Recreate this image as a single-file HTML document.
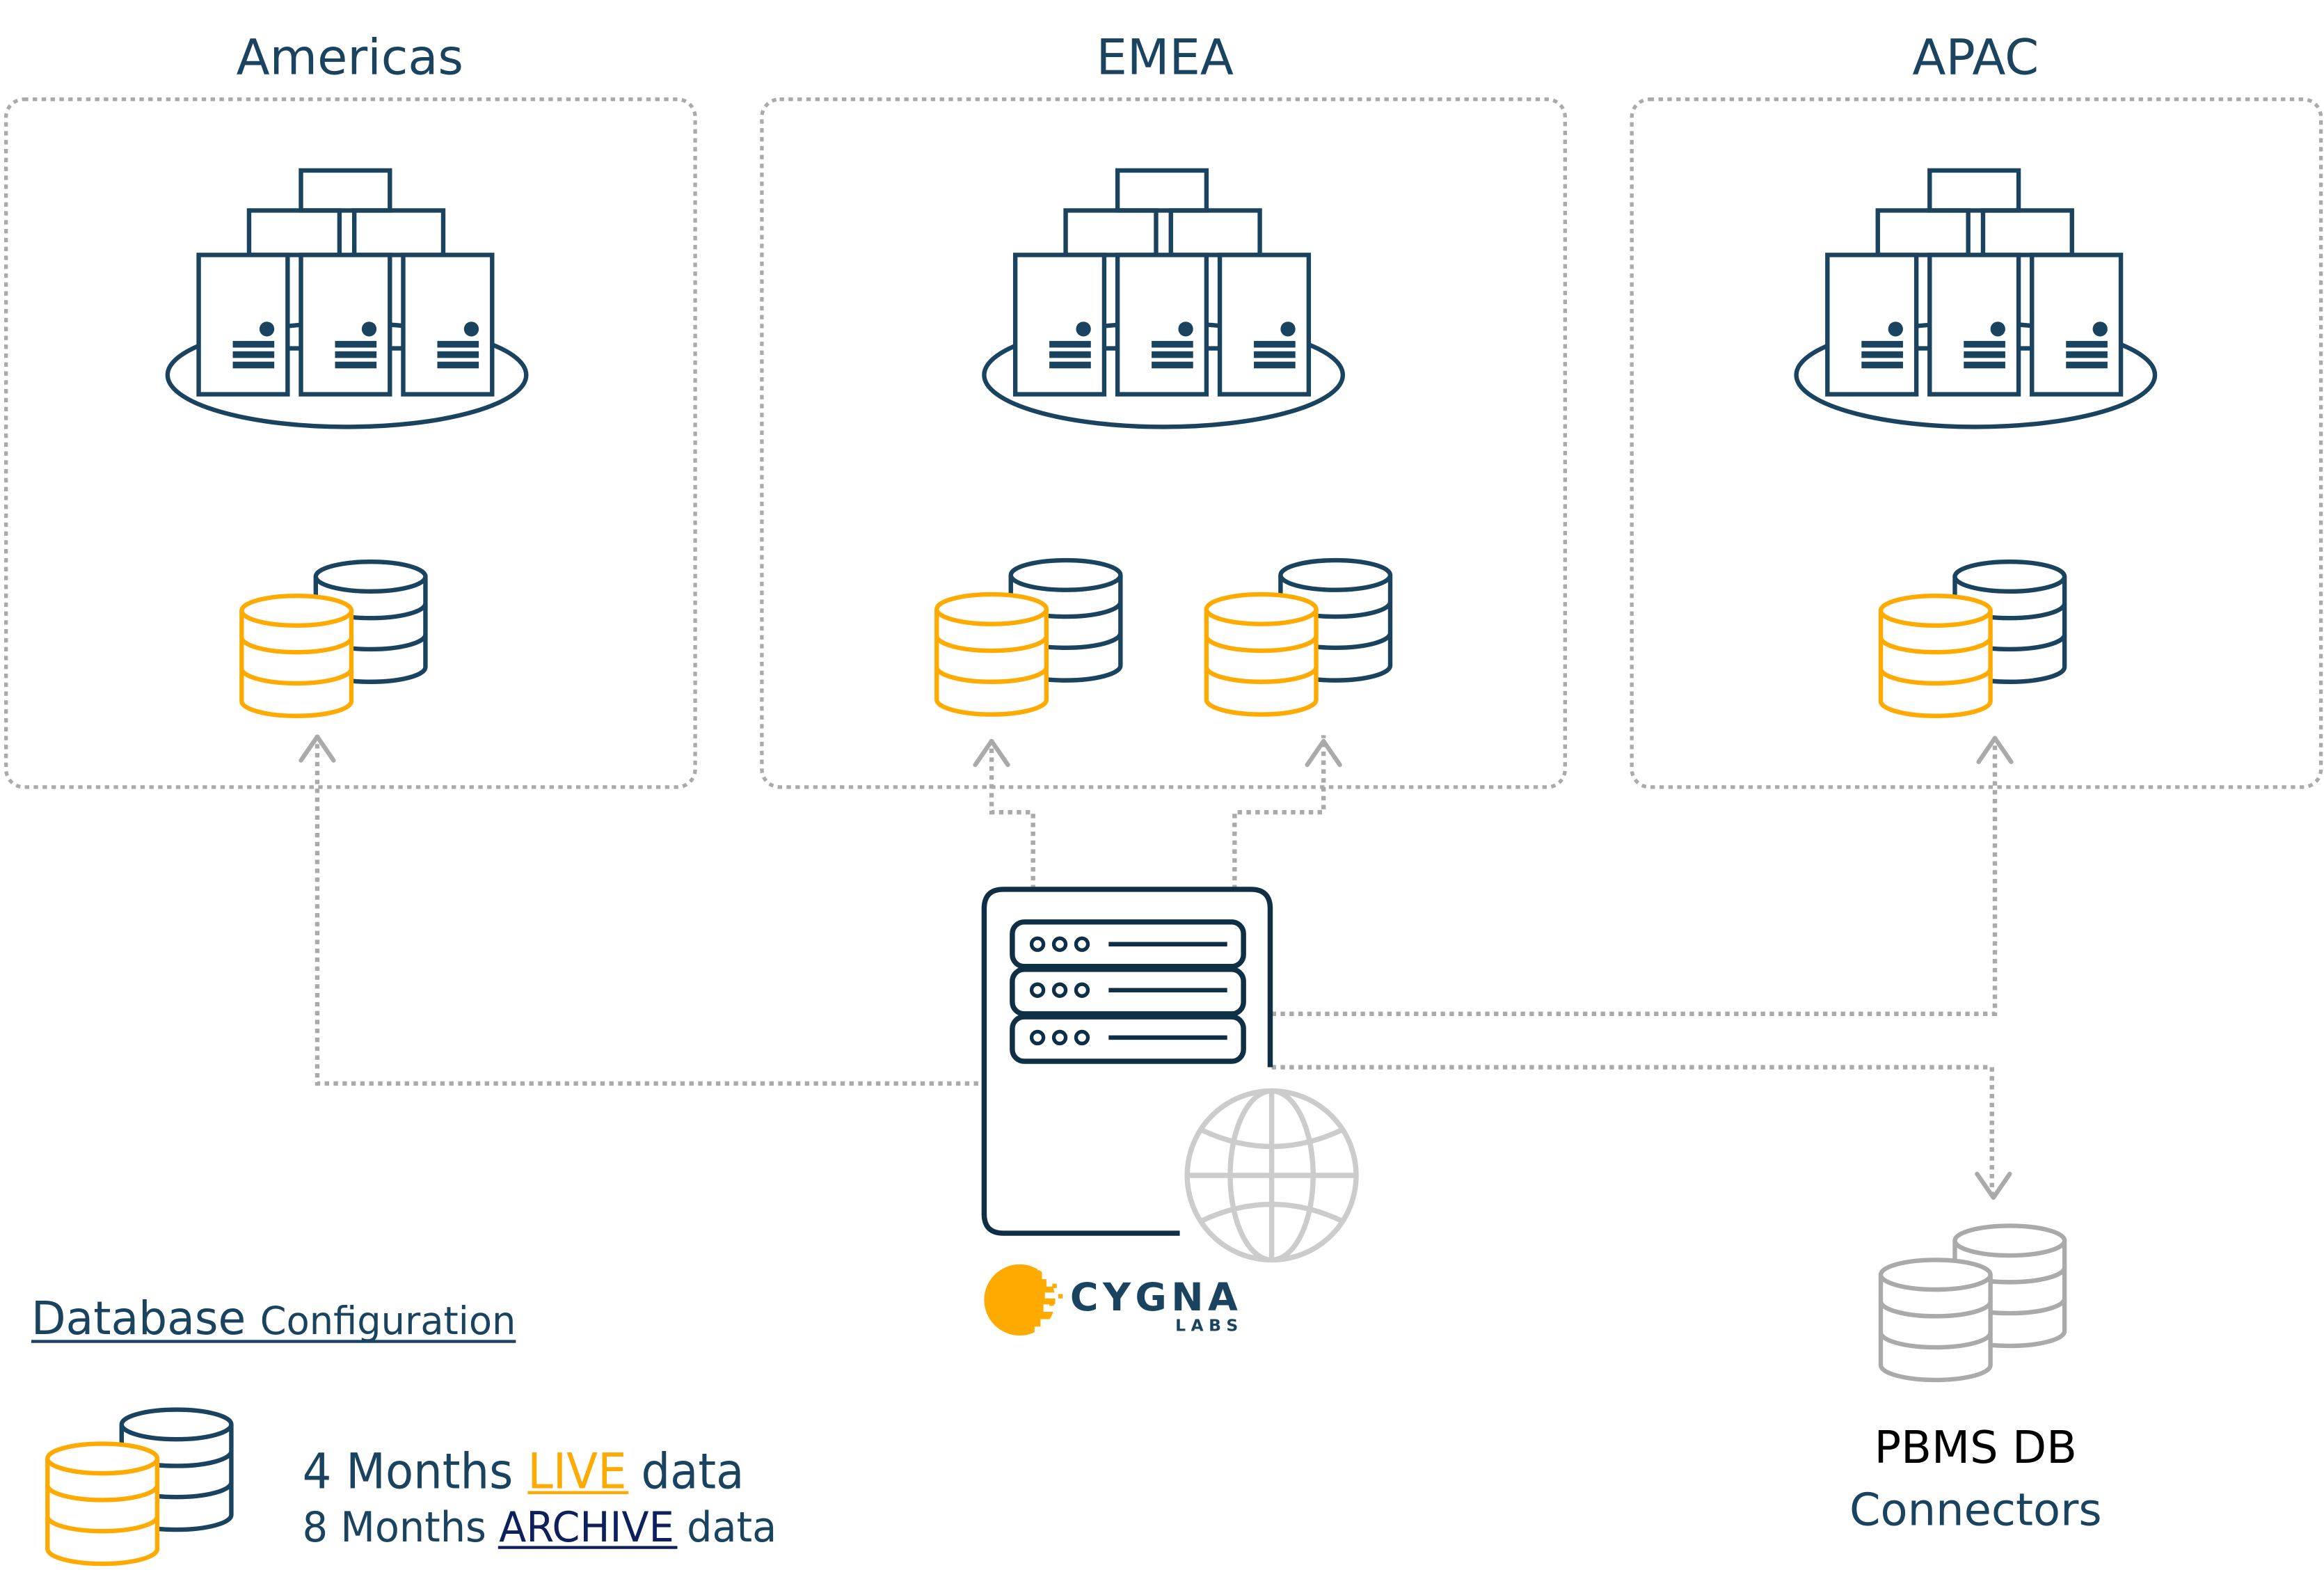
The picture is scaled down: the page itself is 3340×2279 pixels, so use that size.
<!DOCTYPE html>
<html><head><meta charset="utf-8"><style>
html,body{margin:0;padding:0;background:#fff;}
svg{display:block;}
text{font-family:"DejaVu Sans","Liberation Sans",sans-serif;}
</style></head><body>
<svg xmlns="http://www.w3.org/2000/svg" width="3340" height="2279" viewBox="0 0 1568 1070">
<defs>
<g id="cyl" fill="#fff" stroke="currentColor" stroke-width="3">
<path d="M-37,0 V61 A37,10 0 0 0 37,61 V0"/>
<ellipse cx="0" cy="0" rx="37" ry="10"/>
<path d="M-37,18 A37,10 0 0 0 37,18" fill="none"/>
<path d="M-37,39 A37,10 0 0 0 37,39" fill="none"/>
</g>
<g id="srv">
<rect x="0" y="0" width="60" height="94" fill="#fff" stroke="#1a4360" stroke-width="3"/>
<circle cx="46" cy="50" r="5" fill="#1a4360"/>
<rect x="23" y="58" width="28" height="4.5" fill="#1a4360"/>
<rect x="23" y="65" width="28" height="4.5" fill="#1a4360"/>
<rect x="23" y="72" width="28" height="4.5" fill="#1a4360"/>
</g>
<g id="cluster">
<ellipse cx="234" cy="253" rx="121" ry="35" fill="#fff" stroke="#1a4360" stroke-width="3"/>
<g fill="none" stroke="#1a4360" stroke-width="3">
<rect x="203" y="115" width="60" height="27"/>
<rect x="168" y="142" width="61" height="30"/>
<rect x="239" y="142" width="60" height="30"/>
<line x1="194" y1="235" x2="203" y2="235"/>
<line x1="263" y1="235" x2="272" y2="235"/>
</g>
<use href="#srv" x="134" y="172"/>
<use href="#srv" x="203" y="172"/>
<use href="#srv" x="272" y="172"/>
</g>
<g id="dbpair">
<use href="#cyl" x="50" y="-23" color="#1a4360"/>
<use href="#cyl" x="0" y="0" color="#ffaa00"/>
</g>
</defs>

<g fill="#1a4360" font-size="33" text-anchor="middle">
<text x="236" y="50">Americas</text>
<text x="786" y="50">EMEA</text>
<text x="1333" y="50">APAC</text>
</g>

<g fill="none" stroke="#aaa" stroke-width="2.5" stroke-dasharray="3 3">
<rect x="4" y="67" width="465" height="464" rx="12"/>
<rect x="514" y="67" width="542" height="464" rx="12"/>
<rect x="1101" y="67" width="465" height="464" rx="12"/>
</g>

<use href="#cluster"/>
<use href="#cluster" x="551"/>
<use href="#cluster" x="1099"/>

<use href="#dbpair" x="200" y="412"/>
<use href="#dbpair" x="669" y="411"/>
<use href="#dbpair" x="851" y="411"/>
<use href="#dbpair" x="1306" y="412"/>
<use href="#dbpair" x="69" y="984"/>
<g>
<use href="#cyl" x="1356" y="837" color="#aaa"/>
<use href="#cyl" x="1306" y="860" color="#aaa"/>
</g>

<g fill="none" stroke="#aaa" stroke-width="3" stroke-dasharray="3 3">
<path d="M660,731 H214 V496"/>
<path d="M697,600 V548 H669 V496"/>
<path d="M833,600 V548 H893 V496"/>
<path d="M858,684 H1346 V496"/>
<path d="M858,720 H1344 V806"/>
</g>
<g fill="none" stroke="#aaa" stroke-width="3" stroke-linecap="round" stroke-linejoin="round">
<path d="M203,513 L214,497 L225,513"/>
<path d="M658,516 L669,500 L680,516"/>
<path d="M882,516 L893,500 L904,516"/>
<path d="M1335,514 L1346,498 L1357,514"/>
<path d="M1334,792 L1345,808 L1356,792"/>
</g>

<g fill="none" stroke="#0e2f45" stroke-width="3.5">
<path d="M796,832 H677 Q664,832 664,819 V613 Q664,600 677,600 H844 Q857,600 857,613 V720"/>
<rect x="683" y="622" width="156" height="30" rx="8"/>
<rect x="683" y="654" width="156" height="30" rx="8"/>
<rect x="683" y="686" width="156" height="30" rx="8"/>
<g stroke-width="2.5">
<circle cx="700" cy="637" r="4"/><circle cx="715" cy="637" r="4"/><circle cx="730" cy="637" r="4"/>
<circle cx="700" cy="668" r="4"/><circle cx="715" cy="668" r="4"/><circle cx="730" cy="668" r="4"/>
<circle cx="700" cy="700" r="4"/><circle cx="715" cy="700" r="4"/><circle cx="730" cy="700" r="4"/>
</g>
<line x1="748" y1="637" x2="828" y2="637" stroke-width="3"/>
<line x1="748" y1="668" x2="828" y2="668" stroke-width="3"/>
<line x1="748" y1="700" x2="828" y2="700" stroke-width="3"/>
</g>

<g fill="none" stroke="#ccc" stroke-width="3.5">
<circle cx="858" cy="793" r="57"/>
<ellipse cx="858" cy="793" rx="28" ry="57"/>
<line x1="858" y1="736" x2="858" y2="850"/>
<line x1="801" y1="793" x2="915" y2="793"/>
<path d="M810,762 Q858,785 906,762"/>
<path d="M810,824 Q858,801 906,824"/>
</g>

<!-- cygna logo -->
<circle cx="688" cy="877" r="24" fill="#ffaa00"/>
<g fill="#fff">
<rect x="700" y="852" width="14" height="5"/>
<rect x="703" y="857" width="11" height="6"/>
<rect x="706" y="863" width="8" height="5"/>
<rect x="705" y="872" width="9" height="4"/>
<rect x="704" y="880" width="10" height="5"/>
<rect x="702" y="890" width="12" height="5"/>
<rect x="698" y="895" width="16" height="6"/>
</g>
<g fill="#ffaa00"><rect x="710" y="866" width="3" height="3"/><rect x="714" y="873" width="3" height="3"/><rect x="708" y="878" width="3" height="3"/><rect x="706" y="886" width="3" height="3"/></g>
<text x="722" y="884" font-size="26" font-weight="bold" fill="#1a4360" letter-spacing="3" font-family="Liberation Sans, sans-serif">CYGNA</text>
<text x="793" y="898" font-size="11" font-weight="bold" fill="#1a4360" letter-spacing="3.5" font-family="Liberation Sans, sans-serif">LABS</text>

<text x="21" y="900" fill="#1a4360" font-size="31" textLength="327" lengthAdjust="spacingAndGlyphs">Database <tspan font-size="26">Configuration</tspan></text>
<line x1="21" y1="905" x2="348" y2="905" stroke="#1a4360" stroke-width="2"/>
<text x="204" y="1004" fill="#1a4360" font-size="33" textLength="298" lengthAdjust="spacingAndGlyphs">4 Months <tspan fill="#ffaa00">LIVE</tspan> data</text>
<line x1="356" y1="1007" x2="424" y2="1007" stroke="#ffaa00" stroke-width="2"/>
<text x="204" y="1040" fill="#1a4360" font-size="28" textLength="320" lengthAdjust="spacingAndGlyphs">8 Months <tspan fill="#0d1f5c">ARCHIVE</tspan> data</text>
<line x1="336" y1="1044" x2="457" y2="1044" stroke="#0d1f5c" stroke-width="2"/>

<text x="1333" y="987" font-size="30" fill="#000" text-anchor="middle">PBMS DB</text>
<text x="1333" y="1029" font-size="30" fill="#1a4360" text-anchor="middle">Connectors</text>
</svg>
</body></html>
